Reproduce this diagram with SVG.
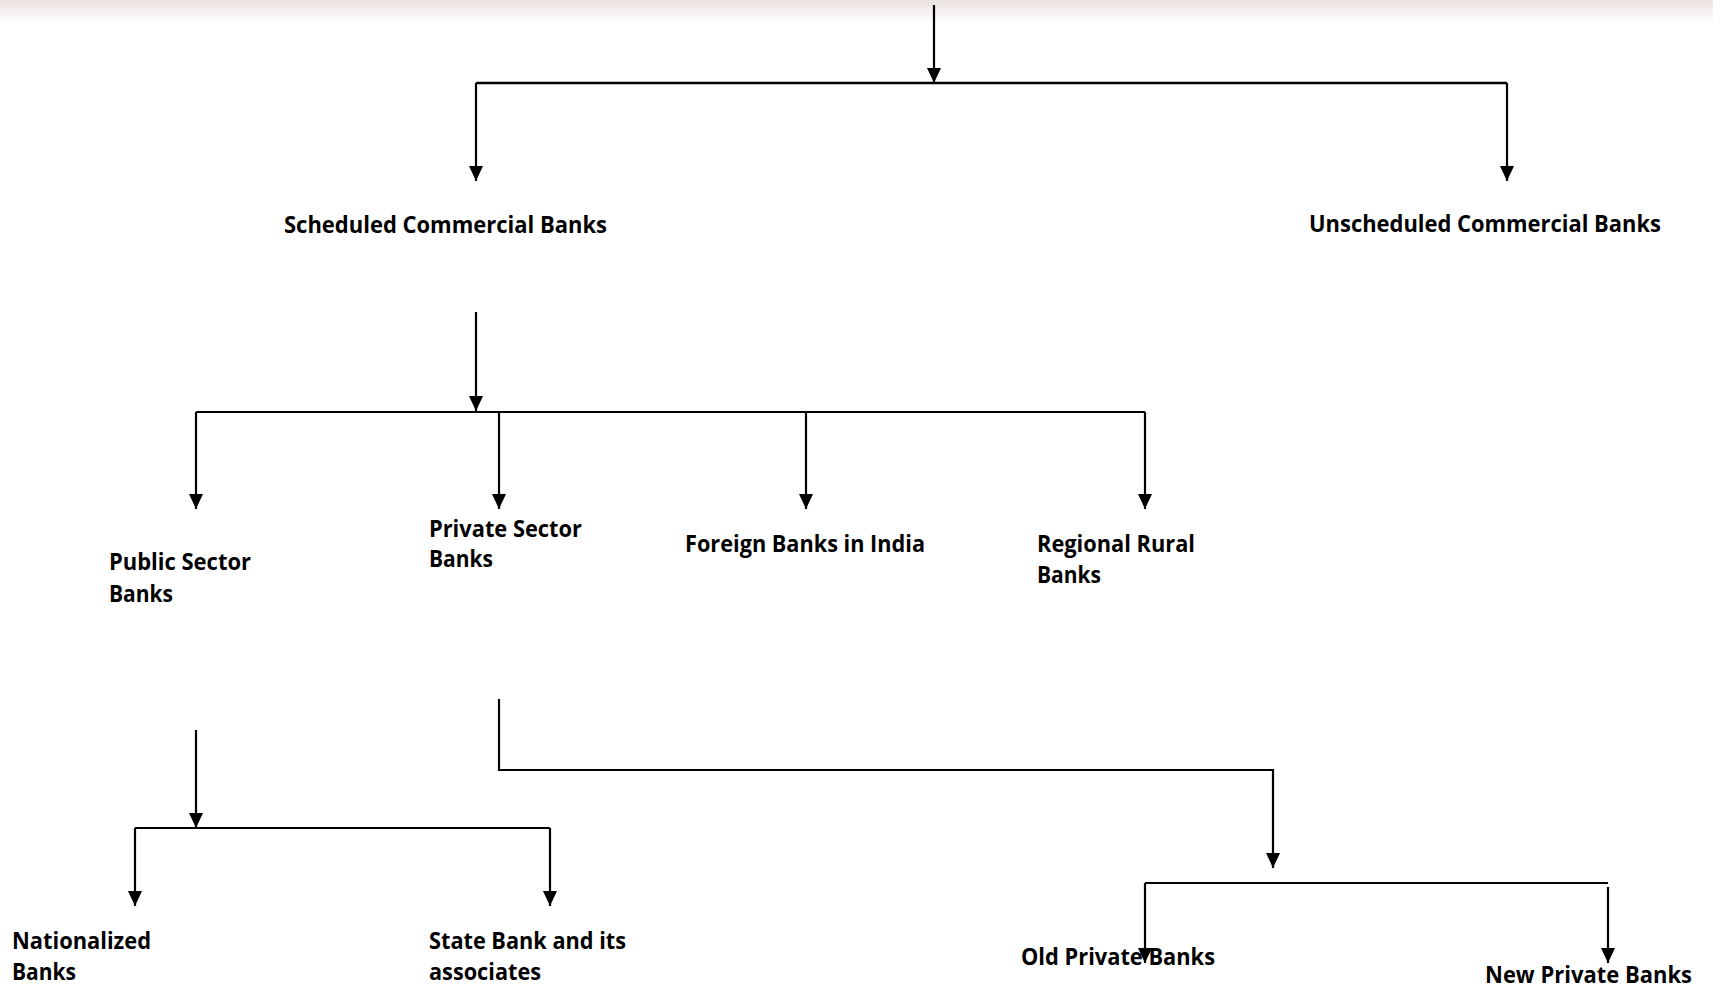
<svg xmlns="http://www.w3.org/2000/svg" width="1713" height="989" viewBox="0 0 1713 989">
<style>
.c{fill:none;stroke:#000;stroke-width:2.2}
.t{font-family:"Open Sans","Liberation Sans",sans-serif;font-weight:700;font-size:24px;fill:#000}
</style>
<defs>
<linearGradient id="top" x1="0" y1="0" x2="0" y2="1">
<stop offset="0" stop-color="#ebe2e0"/>
<stop offset="1" stop-color="#ffffff"/>
</linearGradient>
<marker id="ah" viewBox="0 0 15 14" refX="15" refY="7" markerWidth="15" markerHeight="14" markerUnits="userSpaceOnUse" orient="auto">
<path d="M0,0 L15,7 L0,14 z" fill="#000"/>
</marker>
</defs>
<rect width="1713" height="989" fill="#fff"/>
<rect width="1713" height="24" fill="url(#top)"/>
<g id="connectors">
<path class="c" d="M934,5 V83" marker-end="url(#ah)"/>
<path class="c" style="stroke-width:2.6" d="M476,83 H1507"/>
<path class="c" d="M476,83 V181" marker-end="url(#ah)"/>
<path class="c" d="M1507,83 V181" marker-end="url(#ah)"/>
<path class="c" d="M476,312 V411" marker-end="url(#ah)"/>
<path class="c" d="M196,412 H1145"/>
<path class="c" d="M196,412 V509" marker-end="url(#ah)"/>
<path class="c" d="M499,412 V509" marker-end="url(#ah)"/>
<path class="c" d="M806,412 V509" marker-end="url(#ah)"/>
<path class="c" d="M1145,412 V509" marker-end="url(#ah)"/>
<path class="c" d="M196,730 V828" marker-end="url(#ah)"/>
<path class="c" d="M135,828 H550"/>
<path class="c" d="M135,828 V906" marker-end="url(#ah)"/>
<path class="c" d="M550,828 V906" marker-end="url(#ah)"/>
<path class="c" d="M499,699 V770 H1273 V868" marker-end="url(#ah)"/>
<path class="c" d="M1145,883 H1608"/>
<path class="c" d="M1145,883 V963" marker-end="url(#ah)"/>
<path class="c" d="M1608,887 V963" marker-end="url(#ah)"/>
</g>
<g id="scheduled"><text class="t" x="284" y="233" textLength="323" lengthAdjust="spacingAndGlyphs">Scheduled Commercial Banks</text></g>
<g id="unscheduled"><text class="t" x="1309" y="232" textLength="352" lengthAdjust="spacingAndGlyphs">Unscheduled Commercial Banks</text></g>
<g id="public"><text class="t" x="109" y="570" textLength="142" lengthAdjust="spacingAndGlyphs">Public Sector</text><text class="t" x="109" y="602" textLength="64" lengthAdjust="spacingAndGlyphs">Banks</text></g>
<g id="private"><text class="t" x="429" y="537" textLength="153" lengthAdjust="spacingAndGlyphs">Private Sector</text><text class="t" x="429" y="567" textLength="64" lengthAdjust="spacingAndGlyphs">Banks</text></g>
<g id="foreign"><text class="t" x="685" y="552" textLength="240" lengthAdjust="spacingAndGlyphs">Foreign Banks in India</text></g>
<g id="regional"><text class="t" x="1037" y="552" textLength="158" lengthAdjust="spacingAndGlyphs">Regional Rural</text><text class="t" x="1037" y="583" textLength="64" lengthAdjust="spacingAndGlyphs">Banks</text></g>
<g id="nationalized"><text class="t" x="12" y="949" textLength="139" lengthAdjust="spacingAndGlyphs">Nationalized</text><text class="t" x="12" y="980" textLength="64" lengthAdjust="spacingAndGlyphs">Banks</text></g>
<g id="sbi"><text class="t" x="429" y="949" textLength="197" lengthAdjust="spacingAndGlyphs">State Bank and its</text><text class="t" x="429" y="980" textLength="112" lengthAdjust="spacingAndGlyphs">associates</text></g>
<g id="oldprivate"><text class="t" x="1021" y="965" textLength="194" lengthAdjust="spacingAndGlyphs">Old Private Banks</text></g>
<g id="newprivate"><text class="t" x="1485" y="983" textLength="207" lengthAdjust="spacingAndGlyphs">New Private Banks</text></g>
</svg>
